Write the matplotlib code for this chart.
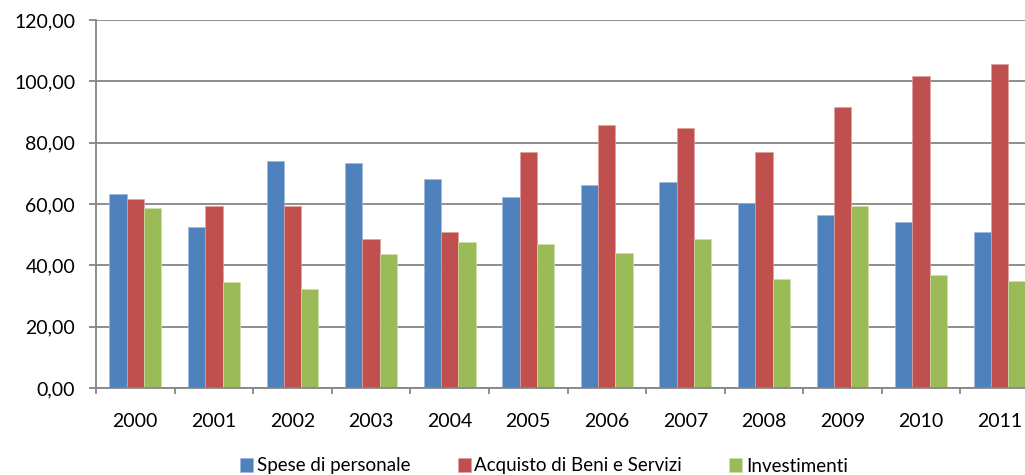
import matplotlib.pyplot as plt
import numpy as np

# data
years = ['2000', '2001', '2002', '2003', '2004', '2005',
         '2006', '2007', '2008', '2009', '2010', '2011']
spese_personale = [63.3, 52.6, 74.0, 73.4, 68.3, 62.2, 66.1, 67.2, 60.4, 56.4, 54.2, 50.9]
beni_servizi = [61.6, 59.4, 59.4, 48.6, 50.9, 76.8, 85.9, 84.8, 76.8, 91.5, 101.7, 105.6]
investimenti = [58.8, 34.6, 32.3, 43.6, 47.5, 47.0, 44.0, 48.6, 35.6, 59.3, 36.7, 35.0]
y_ticks = [0, 20, 40, 60, 80, 100, 120]

plt.rcParams['font.family'] = ['Lato', 'DejaVu Sans']

fig = plt.figure(figsize=(10.25, 4.75), dpi=100)
ax = fig.add_axes([96 / 1025, 87 / 475, 943 / 1025, 368 / 475])

x = np.arange(len(years))
w = 0.22
ax.bar(x - w, spese_personale, w, color='#4F81BD', edgecolor='#9DB8DC', linewidth=0.5,
       label='Spese di personale', zorder=3)
ax.bar(x, beni_servizi, w, color='#C0504D', edgecolor='#E0A09E', linewidth=0.5,
       label='Acquisto di Beni e Servizi', zorder=3)
ax.bar(x + w, investimenti, w, color='#9BBB59', edgecolor='#CDE0AA', linewidth=0.5,
       label='Investimenti', zorder=3)

ax.set_xlim(-0.5, len(years) - 0.5)
ax.set_ylim(0, 120)
ax.set_yticks(y_ticks)
ax.set_yticklabels(['{:.2f}'.format(v).replace('.', ',') for v in y_ticks], fontsize=14)

# year labels centred, tick marks between categories
ax.set_xticks(x)
ax.set_xticklabels(years, fontsize=14)
ax.tick_params(axis='x', length=0, pad=18)
ax.set_xticks(np.arange(-0.5, len(years), 1), minor=True)
ax.tick_params(axis='x', which='minor', length=4, color='#868686', width=1.3)
ax.tick_params(axis='y', length=5, color='#868686', width=1.3, pad=10)

ax.yaxis.grid(True, color='#868686', linewidth=1.3, zorder=0)
ax.set_axisbelow(True)
for s in ['top', 'right']:
    ax.spines[s].set_visible(False)
for s in ['left', 'bottom']:
    ax.spines[s].set_color('#868686')
    ax.spines[s].set_linewidth(1.3)
ax.spines['bottom'].set_zorder(4)

fig.legend(loc='center', bbox_to_anchor=(544 / 1025, 9 / 475), ncol=3, frameon=False,
           fontsize=13.5, handlelength=0.7, handleheight=0.7, handletextpad=0.2,
           columnspacing=2.5)

fig.savefig('out.png', dpi=100)
